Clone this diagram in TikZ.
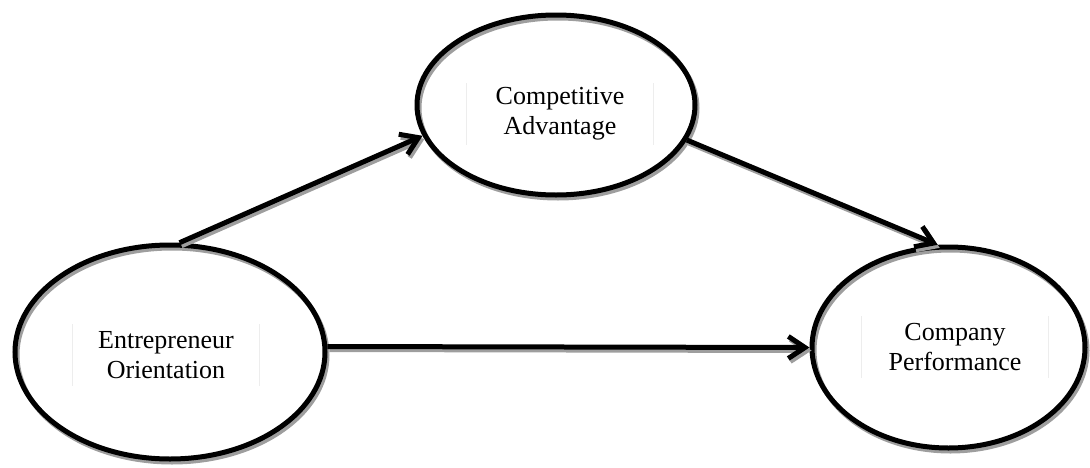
\documentclass[tikz,border=0pt]{standalone}
\usepackage{fontspec}
\setmainfont{Liberation Serif}
\usetikzlibrary{arrows.meta,shapes.geometric}
\begin{document}
\begin{tikzpicture}[x=0.75pt,y=-0.75pt,
  oval/.style={ellipse, draw=black, line width=3.75pt, inner sep=0pt,
    preaction={draw=black!38, line width=3.75pt, transform canvas={shift={(1.5pt,-2.25pt)}}}},
  lbl/.style={font=\fontsize{19.5}{22.5}\selectfont, align=center, inner sep=0pt,
    minimum width=139.5pt, minimum height=45.75pt},
  faint/.style={draw=black!7, line width=0.6pt},
  link/.style={line width=3.75pt, -{Straight Barb[length=12.5pt,width=16.5pt]},
    preaction={draw=black!38, line width=3.75pt, transform canvas={shift={(1.5pt,-2.25pt)}}}}
]
\useasboundingbox (0,0) rectangle (1090,468);
\node[oval, minimum width=208.5pt, minimum height=135pt] (ca) at (556,105) {};
\node[oval, minimum width=232.5pt, minimum height=160.5pt] (eo) at (170,352) {};
\node[oval, minimum width=204.75pt, minimum height=150.75pt] (cp) at (948.5,347.5) {};
\node[lbl] (tca) at (560,114) {Competitive\\Advantage};
\node[lbl] (teo) at (166,355) {Entrepreneur\\Orientation};
\node[lbl] (tcp) at (955,347) {Company\\Performance};
\foreach \n in {tca,teo,tcp}{
  \draw[faint] (\n.north west) -- (\n.south west);
  \draw[faint] (\n.north east) -- (\n.south east);
}
\draw[link] (eo.85.7) -- (ca.193.8);
\draw[link] (ca.-15.7) -- (cp.96.9);
\draw[link] (eo.2.9) -- (cp.180);
\end{tikzpicture}
\end{document}
